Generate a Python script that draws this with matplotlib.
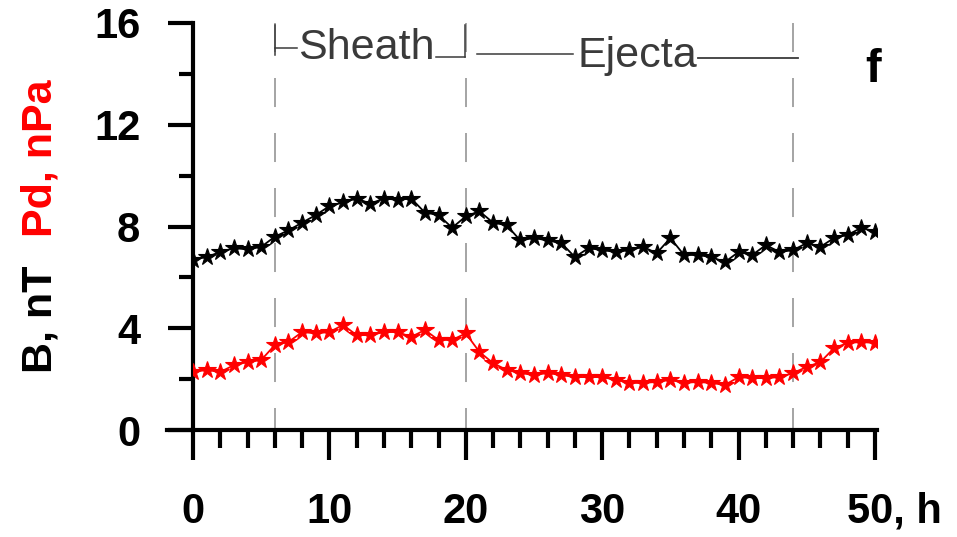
import numpy as np
import matplotlib
matplotlib.use("Agg")
import matplotlib.pyplot as plt
import matplotlib.transforms as mtransforms
from matplotlib.ticker import MultipleLocator

plt.rcParams['font.family'] = ['Liberation Sans', 'DejaVu Sans']

# ---- data (hourly values) ----
hours = np.arange(0, 51)
B_nT = [6.7, 6.8, 7.0, 7.15, 7.1, 7.2, 7.6, 7.85, 8.15, 8.45,
        8.8, 8.95, 9.1, 8.9, 9.1, 9.05, 9.1, 8.55, 8.45, 7.95,
        8.4, 8.6, 8.15, 8.05, 7.45, 7.55, 7.45, 7.35, 6.8, 7.15,
        7.07, 7.0, 7.07, 7.2, 6.95, 7.55, 6.88, 6.88, 6.8, 6.6,
        7.0, 6.88, 7.27, 7.0, 7.07, 7.35, 7.2, 7.55, 7.67, 7.95, 7.8]
Pd_nPa = [2.28, 2.36, 2.28, 2.55, 2.67, 2.75, 3.34, 3.46, 3.85, 3.8,
          3.85, 4.13, 3.73, 3.73, 3.85, 3.85, 3.66, 3.93, 3.54, 3.54,
          3.8, 3.07, 2.63, 2.36, 2.24, 2.16, 2.24, 2.16, 2.08, 2.08,
          2.08, 1.97, 1.85, 1.85, 1.89, 1.97, 1.85, 1.89, 1.85, 1.77,
          2.08, 2.04, 2.04, 2.08, 2.24, 2.48, 2.67, 3.22, 3.42, 3.46, 3.42]

boundaries = [6, 20, 44]          # sheath start, ejecta start, ejecta end
x_ticks = [0, 10, 20, 30, 40, 50]
x_labels = ['0', '10', '20', '30', '40', '50, h']
y_ticks = [0, 4, 8, 12, 16]

# ---- figure ----
fig = plt.figure(figsize=(9.57, 5.37), dpi=100)
ax = fig.add_axes([193/957, 1-430/537, 684/957, 407/537])
ax.set_xlim(0, 50.15)
ax.set_ylim(0, 16)

# dashed boundaries
for xb in boundaries:
    ax.plot([xb, xb], [16, 0], color='#8c8c8c', lw=1.1,
            linestyle=(0, (19, 17)), zorder=1, clip_on=False)

ax.plot(hours, B_nT, color='black', lw=1.3, marker='*', ms=13,
        mec='black', mfc='black', mew=0.8, zorder=3)
ax.plot(hours, Pd_nPa, color='red', lw=1.3, marker='*', ms=13,
        mec='red', mfc='red', mew=0.8, zorder=3)

# Sheath / Ejecta brackets
c_ann = '#3a3a3a'
ax.plot([6, 6], [15.92, 14.74], color=c_ann, lw=1.1, clip_on=False)
ax.plot([6, 7.6], [15.0, 15.0], color=c_ann, lw=1.1, clip_on=False)
ax.text(12.68, 15.0, 'Sheath', fontsize=31, color=c_ann,
        ha='center', va='center')
ax.plot([17.8, 19.94], [14.66, 14.66], color=c_ann, lw=1.1, clip_on=False)
ax.plot([19.94, 19.94], [14.66, 15.92], color=c_ann, lw=1.1, clip_on=False)

ax.plot([20.8, 27.85], [14.8, 14.8], color=c_ann, lw=1.1, clip_on=False)
ax.text(32.6, 14.72, 'Ejecta', fontsize=31, color=c_ann,
        ha='center', va='center')
ax.plot([37.0, 44.35], [14.62, 14.62], color=c_ann, lw=1.3, clip_on=False)

ax.text(49.85, 14.15, 'f', fontsize=34, fontweight='bold',
        ha='center', va='center')

# axes styling
for s in ['top', 'right']:
    ax.spines[s].set_visible(False)
ax.spines['left'].set_linewidth(3)
ax.spines['bottom'].set_linewidth(3)
ax.spines['bottom'].set_bounds(-1.9, 50.15)
ax.spines['left'].set_bounds(0, 16)

ax.set_xticks(x_ticks)
ax.set_xticklabels(x_labels, fontsize=30, fontweight='bold')
ax.xaxis.set_minor_locator(MultipleLocator(2))
ax.set_yticks(y_ticks)
ax.set_yticklabels([str(v) for v in y_ticks], fontsize=30, fontweight='bold')
ax.yaxis.set_minor_locator(MultipleLocator(2))

ax.tick_params(axis='x', which='major', length=21.5, width=3, pad=23, direction='out')
ax.tick_params(axis='x', which='minor', length=13, width=3, direction='out')
ax.tick_params(axis='y', which='major', length=18, width=3, pad=20, direction='out')
ax.tick_params(axis='y', which='minor', length=10, width=3, direction='out')

# shift "50, h" so that "50" sits on its tick
lab = ax.get_xticklabels()[-1]
lab.set_ha('left')
lab.set_transform(lab.get_transform() +
                  mtransforms.ScaledTranslation(-28/100, 0, fig.dpi_scale_trans))

# two-coloured y label
fig.text(40/957, 1-319/537, 'B, nT', rotation=90, fontsize=31,
         fontweight='bold', color='black', ha='center', va='center')
fig.text(40/957, 1-158/537, 'Pd, nPa', rotation=90, fontsize=31,
         fontweight='bold', color='red', ha='center', va='center')

fig.savefig('out.png', dpi=100, facecolor='white')
